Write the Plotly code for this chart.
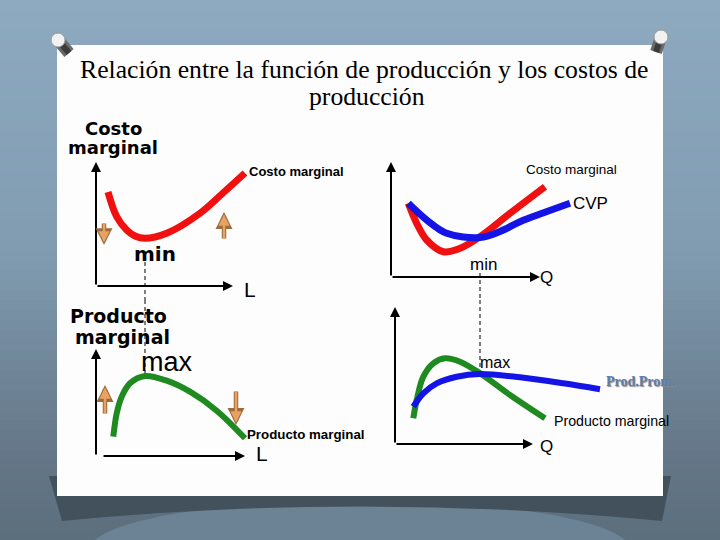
import plotly.graph_objects as go

W, H = 720, 540

# ---------------- data (diagram units, 1 unit ~ 10 px, origin at each panel's axes) -------------
# Top-left: Costo marginal vs L
tl_cm_x = [1.2, 2.07, 3.07, 3.9, 4.9, 7.07, 10.4, 12.7, 14.9]
tl_cm_y = [9.4, 6.93, 5.6, 5.0, 4.77, 5.27, 7.27, 9.3, 11.3]
# Bottom-left: Producto marginal vs L
bl_pm_x = [1.73, 2.07, 2.57, 3.4, 4.9, 7.07, 9.4, 12.07, 14.9]
bl_pm_y = [1.93, 4.27, 5.93, 7.27, 8.0, 7.53, 6.43, 4.53, 1.77]
# Top-right: Costo marginal and CVP vs Q
tr_cm_x = [1.73, 2.57, 3.57, 5.23, 6.9, 8.9, 11.9, 15.4]
tr_cm_y = [7.37, 5.37, 3.7, 2.53, 2.87, 4.03, 6.37, 9.03]
tr_cvp_x = [1.73, 3.57, 5.57, 8.9, 10.9, 12.9, 15.4, 17.9]
tr_cvp_y = [7.37, 5.7, 4.37, 3.95, 4.55, 5.53, 6.47, 7.37]
# Bottom-right: Producto marginal and Prod. Prom. vs Q
br_pm_x = [1.83, 2.17, 2.83, 3.83, 5.0, 6.5, 8.5, 11.5, 15.0]
br_pm_y = [2.57, 4.4, 6.73, 8.07, 8.57, 8.23, 7.07, 4.9, 2.57]
br_pp_x = [1.83, 2.83, 4.17, 6.17, 8.5, 12.5, 16.83, 20.5]
br_pp_y = [3.73, 5.07, 6.07, 6.73, 7.0, 6.67, 6.07, 5.47]

title_l1 = "Relación entre la función de producción y los costos de"
title_l2 = "producción"

# ---------------- layout helpers ----------------
panels = {
    "tl": dict(ax="", origin=(96, 286), box=(57, 385, 110, 300)),
    "tr": dict(ax="2", origin=(391, 277), box=(385, 690, 110, 300)),
    "bl": dict(ax="3", origin=(96, 456), box=(57, 385, 300, 500)),
    "br": dict(ax="4", origin=(395, 444), box=(385, 690, 300, 500)),
}

fig = go.Figure()
layout_axes = {}
for key, p in panels.items():
    ox, oy = p["origin"]
    x0, x1, y0, y1 = p["box"]
    n = p["ax"]
    layout_axes["xaxis" + n] = dict(domain=[x0 / W, x1 / W], range=[(x0 - ox) / 10, (x1 - ox) / 10],
                                    visible=False, fixedrange=True, anchor="y" + n)
    layout_axes["yaxis" + n] = dict(domain=[1 - y1 / H, 1 - y0 / H], range=[(oy - y1) / 10, (oy - y0) / 10],
                                    visible=False, fixedrange=True, anchor="x" + n)
    p["range_y"] = ((oy - y1) / 10, (oy - y0) / 10)


def ref(key):
    n = panels[key]["ax"]
    return ("x" + n, "y" + n)


def line(key, xs, ys, color, width, dash=None, shape="spline"):
    xr, yr = ref(key)
    fig.add_trace(go.Scatter(x=xs, y=ys, mode="lines", xaxis=xr, yaxis=yr, hoverinfo="skip",
                             line=dict(color=color, width=width, shape=shape, dash=dash, smoothing=1.0),
                             showlegend=False))


annotations = []


def arrow(key, x0, y0, x1, y1, color="black", width=2, head=2, size=1):
    xr, yr = ref(key)
    annotations.append(dict(x=x1, y=y1, ax=x0, ay=y0, xref=xr, yref=yr, axref=xr, ayref=yr, text="",
                            showarrow=True, arrowhead=head, arrowsize=size, arrowwidth=width,
                            arrowcolor=color, standoff=0, startstandoff=0))


def label(key, x, y, text, size, family, color="black", weight="normal", xanchor="center", shadow=None):
    xr, yr = ref(key)
    f = dict(size=size, family=family, color=color, weight=weight)
    if shadow:
        f["shadow"] = shadow
    annotations.append(dict(x=x, y=y, xref=xr, yref=yr, text=text, showarrow=False, xanchor=xanchor,
                            yanchor="middle", font=f))


WIDE = "DejaVu Sans, Verdana, sans-serif"
SANS = "Liberation Sans, Arial, sans-serif"
SERIF = "Liberation Serif, serif"
ORANGE = "#e8a262"
ORANGE_DARK = "#9c6a3c"
RED = "#f01010"
BLUE = "#1414e6"
GREEN = "#1f8a1f"

# ---- dashed guide lines (at min / max of curves) ----
tl_min_x = tl_cm_x[tl_cm_y.index(min(tl_cm_y))]
bl_max_x = bl_pm_x[bl_pm_y.index(max(bl_pm_y))]
bl_max_y = max(bl_pm_y)
tr_min_x = tr_cvp_x[tr_cvp_y.index(min(tr_cvp_y))]
br_max_x = br_pp_x[br_pp_y.index(max(br_pp_y))]
br_max_y = max(br_pp_y)

line("tl", [tl_min_x, tl_min_x], [2.4, panels["tl"]["range_y"][0]], "black", 1, dash="4px,3px", shape="linear")
line("bl", [bl_max_x, bl_max_x], [panels["bl"]["range_y"][1], bl_max_y], "black", 1, dash="4px,3px", shape="linear")
line("tr", [tr_min_x, tr_min_x], [0.4, panels["tr"]["range_y"][0]], "black", 1, dash="4px,3px", shape="linear")
line("br", [br_max_x, br_max_x], [panels["br"]["range_y"][1], br_max_y], "black", 1, dash="4px,3px", shape="linear")

# ---- curves ----
line("tl", tl_cm_x, tl_cm_y, RED, 7)
line("bl", bl_pm_x, bl_pm_y, GREEN, 6)
line("tr", tr_cm_x, tr_cm_y, RED, 7)
line("tr", tr_cvp_x, tr_cvp_y, BLUE, 7)
line("br", br_pm_x, br_pm_y, GREEN, 6)
line("br", br_pp_x, br_pp_y, BLUE, 6)

# ---- axes with arrows ----
arrow("tl", 0, 0, 13.7, 0)
arrow("tl", 0, 0, 0, 12.4)
arrow("bl", 0.6, 0, 14.9, 0)
arrow("bl", 0, 0, 0, 10.7)
arrow("tr", 0, 0, 14.9, 0)
arrow("tr", 0, 0, 0, 11.5)
arrow("br", 0, 0, 13.8, 0)
arrow("br", 0, 0, 0, 13.7)

# ---- orange direction arrows (outlined) ----
for key, x, ya, yb in [("tl", 0.8, 6.4, 4.1), ("tl", 12.8, 4.6, 7.4), ("bl", 0.9, 4.1, 7.1), ("bl", 14.0, 6.6, 3.1)]:
    arrow(key, x, ya, x, yb, ORANGE_DARK, 4.5, head=2, size=0.75)
    arrow(key, x, ya, x, yb + (0.25 if yb < ya else -0.25), ORANGE, 2.5, head=2, size=0.9)

# ---- labels ----
label("tl", 1.7, 15.8, "Costo", 18, WIDE, weight="bold")
label("tl", 1.7, 13.9, "marginal", 18, WIDE, weight="bold")
label("tl", 15.1, 11.5, "Costo marginal", 13, SANS, weight="bold", xanchor="left")
label("tl", 5.9, 3.2, "min", 20, WIDE, weight="bold")
label("tl", 15.4, -0.3, "L", 21, SANS)

label("bl", 2.2, 14.0, "Producto", 19, WIDE, weight="bold")
label("bl", 2.6, 11.9, "marginal", 19, WIDE, weight="bold")
label("bl", 7.1, 9.4, "max", 27, SANS)
label("bl", 14.9, 2.2, "Producto marginal", 13.3, SANS, weight="bold", xanchor="left")
label("bl", 16.6, 0.3, "L", 21, SANS)

label("tr", 18.0, 10.8, "Costo marginal", 13.5, SANS)
label("tr", 19.9, 7.4, "CVP", 17, SANS)
label("tr", 9.2, 1.3, "min", 17, SANS)
label("tr", 15.5, 0.0, "Q", 17, SANS)

label("br", 10.0, 8.2, "max", 16, SANS)
label("br", 24.5, 6.3, "Prod.Prom.", 14, SERIF, color="#5a7eae", weight="bold", shadow="1px 1px 1px #8a8a8a")
label("br", 15.7, 2.3, "Producto marginal", 14.2, SANS, xanchor="left")
label("br", 15.1, -0.2, "Q", 17, SANS)

# title
annotations.append(dict(x=364 / W, y=1 - 69 / H, xref="paper", yref="paper", text=title_l1, showarrow=False,
                        xanchor="center", yanchor="middle", font=dict(size=25.7, family=SERIF, color="black")))
annotations.append(dict(x=367 / W, y=1 - 96 / H, xref="paper", yref="paper", text=title_l2, showarrow=False,
                        xanchor="center", yanchor="middle", font=dict(size=25.7, family=SERIF, color="black")))

# ---------------- background shapes ----------------
shapes = []


def prect(x0, y0, x1, y1, color, layer="below"):
    return dict(type="rect", xref="paper", yref="paper", x0=x0 / W, x1=x1 / W, y0=1 - y1 / H, y1=1 - y0 / H,
                fillcolor=color, line_width=0, layer=layer)


def hexc(c):
    return tuple(int(c[i:i + 2], 16) for i in (1, 3, 5))


stops = [(0, "#8eaac0"), (250, "#819cb1"), (440, "#66798a"), (540, "#5c6e7c")]
for y in range(0, 540, 10):
    yc = y + 5
    for (ya, ca), (yb, cb) in zip(stops[:-1], stops[1:]):
        if ya <= yc <= yb:
            t = (yc - ya) / (yb - ya)
            a, b = hexc(ca), hexc(cb)
            c = tuple(round(a[i] + (b[i] - a[i]) * t) for i in range(3))
            break
    shapes.append(prect(0, y, W, y + 11, "rgb(%d,%d,%d)" % c))


def ppath(points, color, layer="below", close=True, line_color=None, line_width=0):
    d = ""
    for i, (cmd, *pts) in enumerate(points):
        s = cmd + " " + " ".join("%.5f,%.5f" % (px / W, 1 - py / H) for px, py in pts)
        d += s + " "
    if close:
        d += "Z"
    return dict(type="path", xref="paper", yref="paper", path=d, fillcolor=color, layer=layer,
                line=dict(width=line_width, color=line_color or color))


# lighter glow at the bottom centre
shapes.append(dict(type="circle", xref="paper", yref="paper", x0=90 / W, x1=630 / W, y0=1 - 600 / H,
                   y1=1 - 500 / H, fillcolor="#6c8395", line_width=0, layer="below"))
# card shadow
shapes.append(ppath([("M", (49, 476)), ("L", (671, 476)), ("L", (662, 521)), ("Q", (360, 492), (62, 521))],
                    "#43515c"))
# white card
shapes.append(prect(57, 45, 663, 496, "#fdfdfd"))

# pins
for head, tip in [((58, 40), (69, 53)), ((661, 37), (656, 52))]:
    shapes.append(dict(type="line", xref="paper", yref="paper", x0=head[0] / W, y0=1 - head[1] / H,
                       x1=tip[0] / W, y1=1 - tip[1] / H, line=dict(color="#6a6a6a", width=12), layer="above"))
    shapes.append(dict(type="line", xref="paper", yref="paper", x0=head[0] / W, y0=1 - head[1] / H,
                       x1=tip[0] / W, y1=1 - tip[1] / H, line=dict(color="#3c3c3c", width=6), layer="above"))
    shapes.append(dict(type="circle", xref="paper", yref="paper", x0=(head[0] - 7) / W, x1=(head[0] + 7) / W,
                       y0=1 - (head[1] + 7) / H, y1=1 - (head[1] - 7) / H, fillcolor="#f2f2f2",
                       line=dict(color="#9a9a9a", width=1), layer="above"))

fig.update_layout(width=W, height=H, margin=dict(l=0, r=0, t=0, b=0), paper_bgcolor="#8aa4b9",
                  plot_bgcolor="rgba(0,0,0,0)", showlegend=False, shapes=shapes, annotations=annotations,
                  **layout_axes)
fig.write_html("out.html", config={"displayModeBar": False})
